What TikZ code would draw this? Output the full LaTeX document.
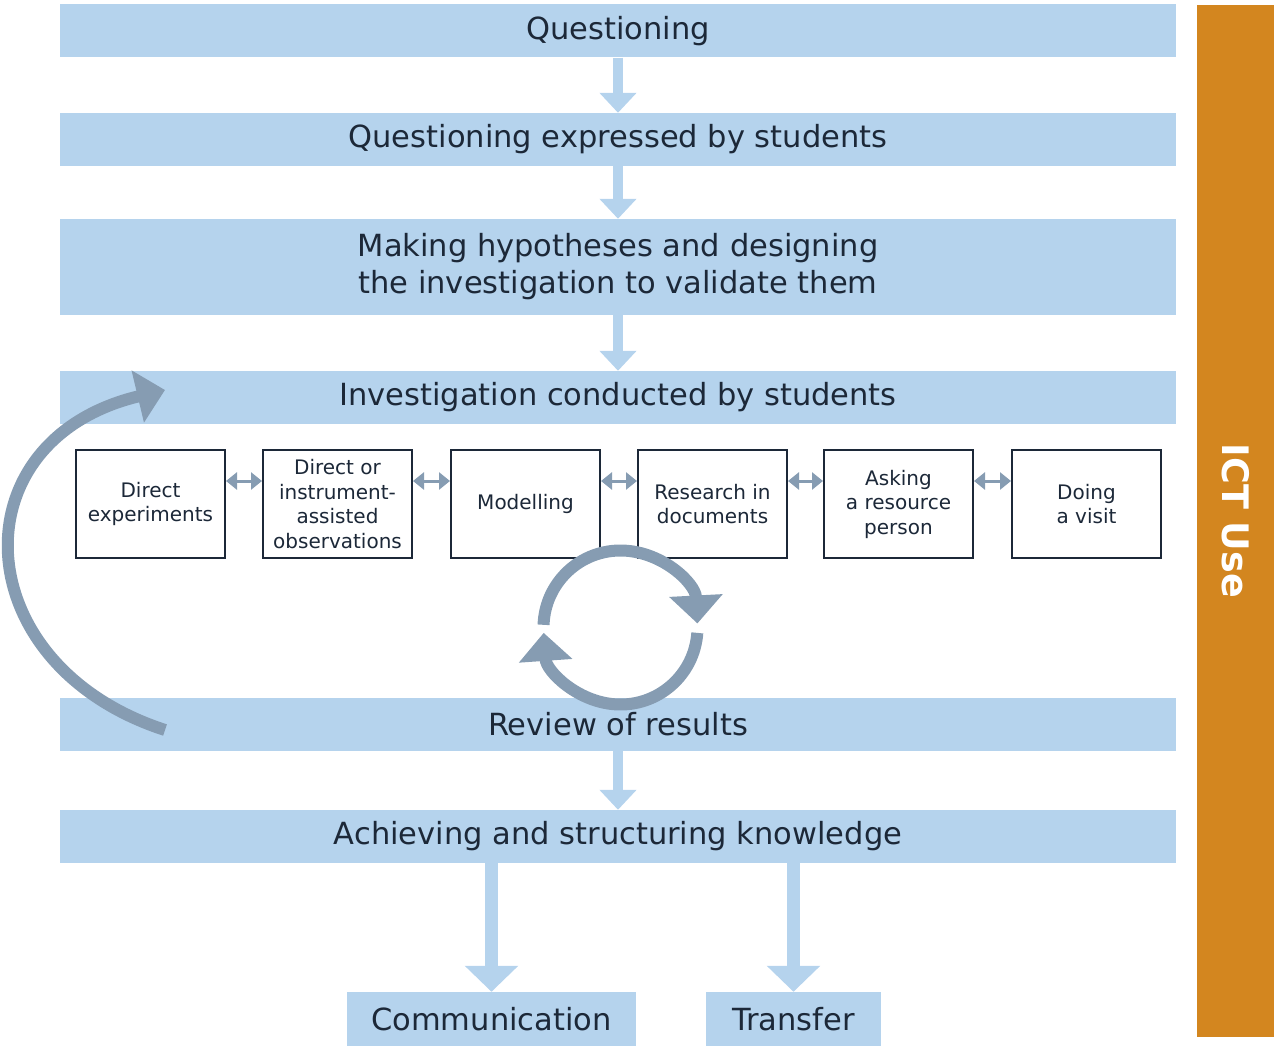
\documentclass[tikz,border=0pt]{standalone}
\usepackage{fontspec}
\setmainfont{DejaVu Sans}
\usetikzlibrary{arrows.meta}

\definecolor{bandblue}{RGB}{181,211,237}
\definecolor{loopgray}{RGB}{134,156,178}
\definecolor{ictorange}{RGB}{211,134,31}
\definecolor{inktext}{RGB}{28,40,56}

\tikzset{
  band/.style={fill=bandblue, minimum width=1116pt, minimum height=53pt, inner sep=0pt,
    text=inktext, align=center, font=\fontsize{30.5}{37}\selectfont},
  way/.style={draw=inktext, line width=2pt, fill=white, minimum width=149pt,
    minimum height=108pt, inner sep=0pt, text=inktext, align=center,
    font=\fontsize{20}{24.5}\selectfont},
  flow/.style={draw=bandblue, line width=10pt, -{Triangle[length=20pt,width=36pt]}},
  bigflow/.style={draw=bandblue, line width=13pt, -{Triangle[length=26pt,width=52pt]}},
  link/.style={draw=loopgray, line width=3pt,
    {Triangle[length=11pt,width=17pt]}-{Triangle[length=11pt,width=17pt]}},
  turn/.style={draw=loopgray, line width=12pt, -{Triangle[length=28pt,width=52pt]}},
  ictbar/.style={fill=ictorange, minimum width=1032pt, minimum height=77pt, inner sep=0pt,
    text=white, font=\bfseries\fontsize{36.5}{36.5}\selectfont}
}

\begin{document}
\begin{tikzpicture}[x=1pt,y=1pt]
  \useasboundingbox (0,0) rectangle (1274,-1046);

  % Stages
  \foreach \n/\y/\t in {q1/-31/Questioning, q2/-139.5/Questioning expressed by students,
      q4/-397.5/Investigation conducted by students, q5/-724.5/Review of results,
      q6/-836.5/Achieving and structuring knowledge}{
    \node[band] (\n) at (618,\y) {\t};
  }
  \node[band, minimum height=96pt] (q3) at (618,-267)
    {Making hypotheses and designing\\the investigation to validate them};
  \node[band, minimum width=289pt, minimum height=54pt] (comm) at (491.5,-1019) {Communication};
  \node[band, minimum width=175pt, minimum height=54pt] (trans) at (793.5,-1019) {Transfer};

  % Flow between stages
  \foreach \i/\j in {q1/q2, q2/q3, q3/q4, q5/q6}{
    \draw[flow] (\i) -- (\j);
  }
  \draw[bigflow] (q6.south -| comm) -- (comm);
  \draw[bigflow] (q6.south -| trans) -- (trans);

  % Ways of investigating
  \foreach \i/\x/\t in {1/150.5/{Direct\\experiments},
      2/337.5/{Direct or\\instrument-\\assisted\\observations},
      3/525.5/{Modelling}, 4/712.5/{Research in\\documents},
      5/898.5/{Asking\\a resource\\person}, 6/1086.5/{Doing\\a visit}}{
    \node[way] (w\i) at (\x,-504) {\t};
  }
  \foreach \i/\j in {1/2, 2/3, 3/4, 4/5, 5/6}{
    \draw[link] ([yshift=23pt]w\i.east) -- ([yshift=23pt]w\j.west);
  }

  % Review loop
  \coordinate (hub) at (620.5,-627.5);
  \draw[turn] (hub) ++(178:77pt) arc[start angle=178, end angle=3, radius=77pt];
  \draw[turn] (hub) ++(-4:77pt) arc[start angle=-4, end angle=-176, radius=77pt];

  % Back to the investigation
  \coordinate (back) at (165,-730);
  \coordinate (redo) at (165,-390);
  \draw[turn] (back) .. controls (-35,-665) and (-45,-440) .. (redo);

  % ICT
  \node[ictbar, rotate=-90] (ict) at (1235.5,-521) {ICT Use};
\end{tikzpicture}
\end{document}
